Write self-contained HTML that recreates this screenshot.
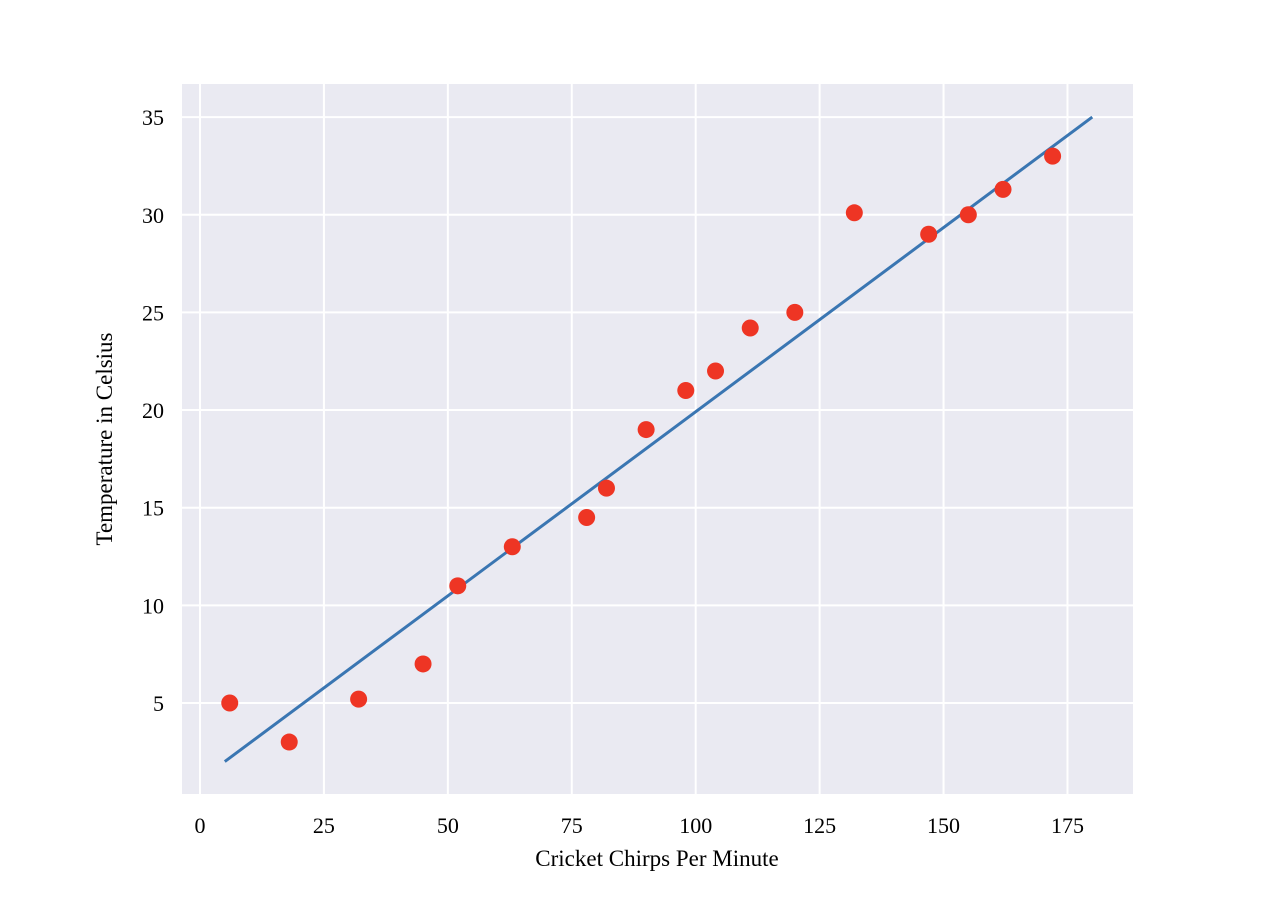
<!DOCTYPE html>
<html><head><meta charset="utf-8"><style>
html,body{margin:0;padding:0;background:#fff;}
svg{display:block;font-family:"Liberation Serif",serif;}
</style></head><body>
<svg id="chart" width="1286" height="922">
<rect x="182" y="84" width="951" height="710" fill="#eaeaf2"/>
<g id="grid"></g><g id="ticks"></g><g id="marks"></g>
<text x="657" y="866" font-size="23" text-anchor="middle">Cricket Chirps Per Minute</text>
<text transform="translate(112,439) rotate(-90)" font-size="23" text-anchor="middle">Temperature in Celsius</text>
</svg>
<script>
const xTicks=[0,25,50,75,100,125,150,175];
const yTicks=[5,10,15,20,25,30,35];
const chirps=[6,18,32,45,52,63,78,82,90,98,104,111,120,132,147,155,162,172];
const temps=[5,3,5.2,7,11,13,14.5,16,19,21,22,24.2,25,30.1,29,30,31.3,33];
const fitX=[5,180];
const fitY=[2,35];
const NS="http://www.w3.org/2000/svg";
function xs(v){return 200+v*4.957;}
function ys(v){return 703-(v-5)*19.53;}
function mk(t,a,p){const e=document.createElementNS(NS,t);for(const k in a)e.setAttribute(k,a[k]);p.appendChild(e);return e;}
const grid=document.getElementById('grid'),ticks=document.getElementById('ticks'),marks=document.getElementById('marks');
xTicks.forEach(v=>{
  const l=mk('line',{x1:xs(v),x2:xs(v),y1:84,y2:794,stroke:'#fff','stroke-width':2},grid);
  
  
  const t=mk('text',{x:xs(v),y:833,'font-size':22,'text-anchor':'middle'},ticks);
  t.textContent=v;
  
  
});
yTicks.forEach(v=>{
  const l=mk('line',{x1:182,x2:1133,y1:ys(v),y2:ys(v),stroke:'#fff','stroke-width':2},grid);
  
  
  const t=mk('text',{x:164,y:ys(v)+8,'font-size':22,'text-anchor':'end'},ticks);
  t.textContent=v;
  
  
});
const fl=mk('line',{x1:xs(fitX[0]),y1:ys(fitY[0]),x2:xs(fitX[1]),y2:ys(fitY[1]),stroke:'#3a76b2','stroke-width':3},marks);


chirps.forEach((c,i)=>{
  const p=mk('circle',{cx:xs(c),cy:ys(temps[i]),r:8.5,fill:'#ee3524'},marks);
  
  
});
</script>
</body></html>
